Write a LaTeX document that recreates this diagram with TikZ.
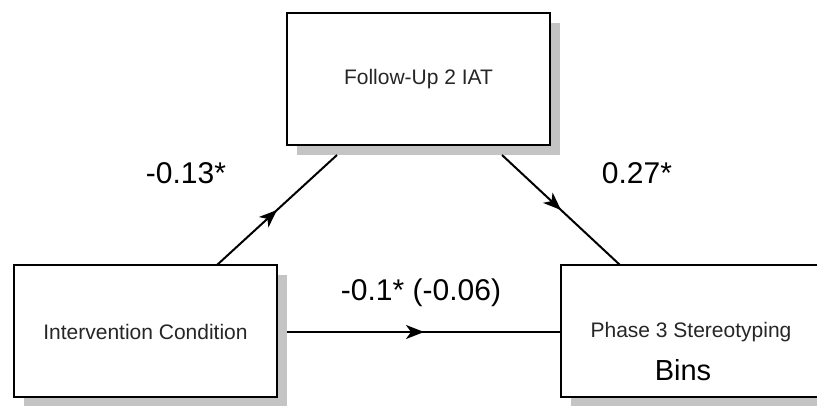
\documentclass[tikz,border=0pt]{standalone}
\usepackage{fontspec}
\setmainfont{Liberation Sans}
\usetikzlibrary{calc,arrows.meta,decorations.markings}
\begin{document}
\begin{tikzpicture}[x=1pt,y=-1pt,
  boxnode/.style={draw=black,line width=2pt,fill=white,minimum width=263pt,minimum height=132pt,inner sep=0pt,outer sep=0pt},
  shadownode/.style={fill=black!23,minimum width=263pt,minimum height=132pt,inner sep=0pt,outer sep=0pt},
  boxtext/.style={font=\fontsize{21}{25}\selectfont,text=black!85,inner sep=0pt},
  coeff/.style={font=\fontsize{30}{36}\selectfont,inner sep=0pt},
  conn/.style={line width=2pt,black},
  midarrow/.style={postaction={decorate},decoration={markings,mark=at position 0.5 with {\arrow{Stealth[length=18pt,width=14pt,inset=5pt]}}}}
]
\useasboundingbox (0,0) rectangle (817,405);
\clip (0,0) rectangle (817,405);
% shadows
\node[shadownode] (topsh) at (428.5,89) {};
\node[shadownode] (leftsh) at (155.5,341) {};
\node[shadownode] (rightsh) at (702.5,341) {};
% boxes
\node[boxnode] (top) at (418.5,79) {};
\node[boxnode] (left) at (145.5,331) {};
\node[boxnode] (right) at (692.5,331) {};
% box texts
\node[boxtext] (ttop) at (top.center) {Follow-Up 2 IAT};
\node[boxtext] (tleft) at (145.5,332) {Intervention Condition};
\node[boxtext] (tright) at (691,332) {Phase 3 Stereotyping};
\node[font=\fontsize{29}{34}\selectfont,inner sep=0pt] (bins) at (683,370) {Bins};
% connectors
\draw[conn,midarrow] ($(left.north west)+(203,0)$) -- ($(topsh.south west)+(40,0)$);
\draw[conn,midarrow] ($(topsh.south west)+(205,0)$) -- ($(right.north west)+(59,0)$);
\draw[conn,midarrow] ($(left.east)+(10,1)$) -- ($(right.west)+(0,1)$);
% coefficients
\node[coeff] (c1) at (186,173) {-0.13*};
\node[coeff] (c2) at (637,173) {0.27*};
\node[coeff] (c3) at (421,293) {-0.1* (-0.06)};
\end{tikzpicture}
\end{document}
